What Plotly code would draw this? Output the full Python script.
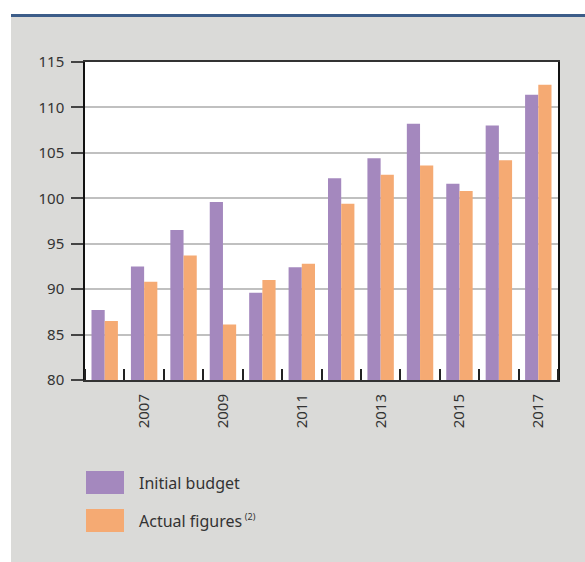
import plotly.graph_objects as go

# Data
years = [2006, 2007, 2008, 2009, 2010, 2011, 2012, 2013, 2014, 2015, 2016, 2017]
initial_budget = [87.7, 92.5, 96.5, 99.6, 89.6, 92.4, 102.2, 104.4, 108.2, 101.6, 108.0, 111.4]
actual_figures = [86.5, 90.8, 93.7, 86.1, 91.0, 92.8, 99.4, 102.6, 103.6, 100.8, 104.2, 112.5]
label_years = [2007, 2009, 2011, 2013, 2015, 2017]
series_names = ["Initial budget",
                "Actual figures\u2009<sup><span style='font-size:9px'>(2)</span></sup>"]

PURPLE = "#a488be"
ORANGE = "#f5aa73"
GREY_BG = "#dadad8"
TEXT = "#333333"
FONT = "Noto Sans"

W, H = 585, 562
L, R, T, B = 85, 27, 62, 182
pw, ph = W - L - R, H - T - B


def px_x(x):
    return (x - L) / pw


def px_y(y):
    return (H - B - y) / ph


fig = go.Figure()
fig.add_trace(go.Bar(x=years, y=initial_budget, name="Initial budget",
                     marker=dict(color=PURPLE, line=dict(width=0))))
fig.add_trace(go.Bar(x=years, y=actual_figures, name="Actual figures",
                     marker=dict(color=ORANGE, line=dict(width=0))))

shapes = [
    # white strips outside the grey panel
    dict(type="rect", xref="paper", yref="paper", x0=px_x(0), x1=px_x(W),
         y0=px_y(17), y1=px_y(-5), fillcolor="white", line=dict(width=0), layer="above"),
    dict(type="rect", xref="paper", yref="paper", x0=px_x(-5), x1=px_x(11),
         y0=px_y(H + 5), y1=px_y(-5), fillcolor="white", line=dict(width=0), layer="above"),
    # blue rule on top of the panel
    dict(type="line", xref="paper", yref="paper", x0=px_x(11), x1=px_x(W + 2),
         y0=px_y(15.5), y1=px_y(15.5), line=dict(color="#3c5d89", width=3), layer="above"),
]

# legend swatches and labels
legend_rows = [(471, 494, PURPLE, series_names[0]), (509, 532, ORANGE, series_names[1])]
annotations = []
for y0, y1, col, name in legend_rows:
    shapes.append(dict(type="rect", xref="paper", yref="paper",
                       x0=px_x(86), x1=px_x(124), y0=px_y(y1), y1=px_y(y0),
                       fillcolor=col, line=dict(width=0), layer="above"))
    annotations.append(dict(xref="paper", yref="paper", x=px_x(137), y=px_y((y0 + y1) / 2),
                            text=name, showarrow=False, xanchor="left", yanchor="middle",
                            font=dict(family=FONT, size=16, color=TEXT)))

fig.update_layout(
    width=W, height=H,
    margin=dict(l=L, r=R, t=T, b=B, pad=0),
    paper_bgcolor=GREY_BG,
    plot_bgcolor="white",
    barmode="group",
    bargap=0.33,
    bargroupgap=0,
    showlegend=False,
    shapes=shapes,
    annotations=annotations,
    font=dict(family=FONT, size=15, color=TEXT),
    xaxis=dict(
        range=[2005.5, 2017.5],
        tickmode="array", tickvals=label_years, ticktext=[str(y) for y in label_years],
        tickangle=-90, ticks="", ticklabelstandoff=6,
        showgrid=False, zeroline=False,
        showline=True, linecolor="#333333", linewidth=2, mirror=True,
        minor=dict(tick0=2005.5, dtick=1, ticks="inside", ticklen=11,
                   tickcolor="#222222", tickwidth=1.5, showgrid=False),
        tickfont=dict(family=FONT, size=15, color=TEXT),
    ),
    yaxis=dict(
        range=[80, 115], dtick=5, tick0=80,
        ticks="outside", ticklen=12, tickcolor="#444444", tickwidth=2,
        ticklabelstandoff=4,
        showgrid=True, gridcolor="#c0c0c0", gridwidth=2,
        zeroline=False,
        showline=True, linecolor="#111111", linewidth=1.5, mirror=True,
        tickfont=dict(family=FONT, size=15, color=TEXT),
    ),
)

fig.write_html("out.html")
